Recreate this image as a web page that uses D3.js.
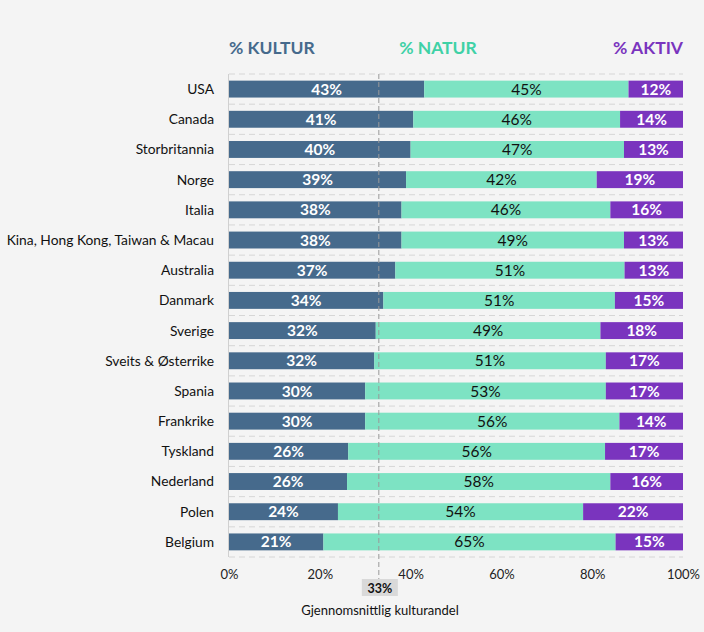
<!DOCTYPE html>
<html><head><meta charset="utf-8">
<script src="https://cdn.jsdelivr.net/npm/d3@7"></script>
<style>
html,body{margin:0;padding:0;background:#f4f4f4;}
svg{display:block;font-family:Lato,"Open Sans",sans-serif;}
</style></head>
<body>
<svg id="chart" width="704" height="632"></svg>
<script>
const countries = ["USA","Canada","Storbritannia","Norge","Italia","Kina, Hong Kong, Taiwan & Macau","Australia","Danmark","Sverige","Sveits & Østerrike","Spania","Frankrike","Tyskland","Nederland","Polen","Belgium"];
const kultur = [43,41,40,39,38,38,37,34,32,32,30,30,26,26,24,21];
const natur  = [45,46,47,42,46,49,51,51,49,51,53,56,56,58,54,65];
const aktiv  = [12,14,13,19,16,13,13,15,18,17,17,14,17,16,22,15];
const seriesKeys = ["kultur","natur","aktiv"];
const seriesNames = ["% KULTUR","% NATUR","% AKTIV"];
const xTicks = [0,0.2,0.4,0.6,0.8,1];
const avgKultur = 0.33;
const avgLabel = "33%";
const axisTitle = "Gjennomsnittlig kulturandel";

const colors = {kultur:"#466a8c", natur:"#7de3c3", aktiv:"#7a34be"};
const headColors = {kultur:"#466a8c", natur:"#3fd1a6", aktiv:"#7a34be"};
const labelColors = {kultur:"#ffffff", natur:"#111111", aktiv:"#ffffff"};

const rows = countries.map((c,i)=>({country:c, kultur:kultur[i], natur:natur[i], aktiv:aktiv[i]}));
const stack = d3.stack().keys(seriesKeys).offset(d3.stackOffsetExpand);
const stacked = stack(rows);

const svg = d3.select("#chart");
const x = d3.scaleLinear().domain([0,1]).range([229,683]);
const y = d3.scaleBand().domain(countries).range([74,557]).paddingInner(0.44).paddingOuter(0.22);

// gridlines at band boundaries
const step = y.step();
const bounds = d3.range(countries.length+1).map(i => 74 + i*step);
svg.append("g").selectAll("line").data(bounds).join("line")
  .attr("x1",x(0)).attr("x2",x(1)).attr("y1",d=>d).attr("y2",d=>d)
  .attr("stroke","#d6d6d6").attr("stroke-width",1).attr("stroke-dasharray","6,4");

// left axis line
svg.append("line").attr("x1",x(0)-0.5).attr("x2",x(0)-0.5).attr("y1",74).attr("y2",557)
  .attr("stroke","#d0d0d0");

// bars
const g = svg.append("g");
stacked.forEach(s=>{
  const key = s.key;
  const gg = g.append("g");
  gg.selectAll("rect").data(s).join("rect")
    .attr("x",d=>x(d[0])).attr("width",d=>x(d[1])-x(d[0]))
    .attr("y",d=>y(d.data.country)).attr("height",y.bandwidth())
    .attr("fill",colors[key]);
  gg.selectAll("text").data(s).join("text")
    .attr("x",d=>(x(d[0])+x(d[1]))/2)
    .attr("y",d=>y(d.data.country)+y.bandwidth()/2)
    .attr("dy","0.36em").attr("text-anchor","middle")
    .attr("font-size",15.5).attr("font-weight", key==="natur"?400:700)
    .attr("fill",labelColors[key])
    .text(d=>d.data[key]+"%");
});

// average line
svg.append("line").attr("x1",x(avgKultur)).attr("x2",x(avgKultur)).attr("y1",74).attr("y2",580)
  .attr("stroke","#9a9a9a").attr("stroke-width",1).attr("stroke-dasharray","5,3");

// y axis labels
svg.append("g").selectAll("text").data(countries).join("text")
  .attr("x",214).attr("y",d=>y(d)+y.bandwidth()/2).attr("dy","0.36em")
  .attr("text-anchor","end").attr("font-size",13.8).attr("fill","#111")
  .text(d=>d);

// x axis
const xAxis = d3.axisBottom(x).tickValues(xTicks).tickFormat(d3.format(".0%")).tickSize(0).tickPadding(0);
const ax = svg.append("g").attr("transform","translate(0,570)").call(xAxis);
ax.select(".domain").remove();
ax.selectAll("text").attr("font-size",13).attr("fill","#222").attr("font-family","Lato,'Open Sans',sans-serif");

// avg label
svg.append("rect").attr("x",x(avgKultur)-17).attr("y",579).attr("width",36).attr("height",17).attr("fill","#d9d9d9");
svg.append("text").attr("x",x(avgKultur)+1).attr("y",588).attr("dy","0.36em").attr("text-anchor","middle")
  .attr("font-size",12.5).attr("font-weight",700).attr("fill","#111").text(avgLabel);
svg.append("text").attr("x",380).attr("y",610).attr("dy","0.36em").attr("text-anchor","middle")
  .attr("font-size",13).attr("fill","#111").text(axisTitle);

// headers
const heads = [{k:"kultur",x:x(0),a:"start"},{k:"natur",x:438,a:"middle"},{k:"aktiv",x:x(1),a:"end"}];
svg.append("g").selectAll("text").data(heads).join("text")
  .attr("x",d=>d.x).attr("y",48).attr("dy","0.36em").attr("text-anchor",d=>d.a)
  .attr("font-size",17.5).attr("font-weight",700).attr("fill",d=>headColors[d.k])
  .text((d,i)=>seriesNames[seriesKeys.indexOf(d.k)]);
</script>
</body></html>
